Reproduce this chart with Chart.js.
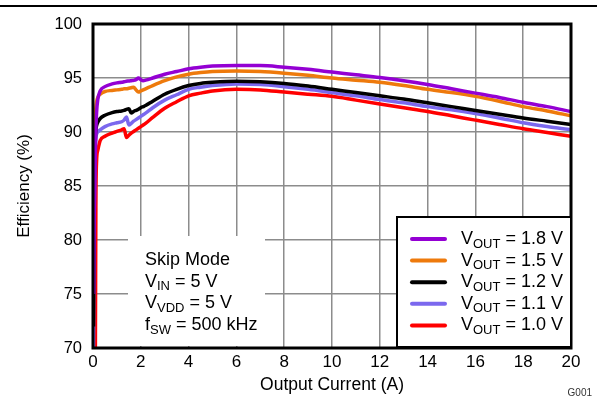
<!DOCTYPE html>
<html>
<head>
<meta charset="utf-8">
<script src="https://cdn.jsdelivr.net/npm/chart.js@4"></script>
<style>
  html, body { margin: 0; padding: 0; background: #fff; }
  canvas { display: block; }
</style>
</head>
<body>
<canvas id="effChart" width="597" height="400"></canvas>
<script>
/* Efficiency vs output current, skip mode, 5 output voltages */

const current = [0.02, 0.05, 0.1, 0.12, 0.15, 0.2, 0.3, 0.5, 0.8, 1.0, 1.2, 1.3, 1.4, 1.5, 1.6, 1.7, 1.8, 1.9, 2.0, 2.1, 2.2,
  2.5, 3, 3.5, 4, 4.5, 5, 6, 7, 8, 9, 10, 11, 12, 13, 14, 15, 16, 17, 18, 19, 20];

const eff18 = [75, 82, 88.5, 90.2, 91.8, 93.0, 93.8, 94.2, 94.45, 94.55, 94.6, 94.65, 94.7, 94.72, 94.75, 94.78, 94.85, 95.0, 94.85, 94.75, 94.8,
  95.0, 95.35, 95.6, 95.85, 96.0, 96.1, 96.15, 96.15, 96.0, 95.8, 95.55, 95.3, 95.05, 94.75, 94.4, 94.0, 93.6, 93.2, 92.75, 92.35, 91.9];
const eff15 = [80, 88, 91.6, 92.3, 92.8, 93.2, 93.5, 93.75, 93.85, 93.9, 93.95, 94.0, 94.0, 94.05, 94.1, 94.15, 93.9, 93.7, 93.8, 93.9, 94.0,
  94.3, 94.75, 95.1, 95.35, 95.5, 95.6, 95.65, 95.6, 95.45, 95.25, 95.0, 94.8, 94.6, 94.3, 93.95, 93.65, 93.3, 92.85, 92.35, 91.95, 91.5];
const eff12 = [72, 84, 89.5, 90.2, 90.6, 90.9, 91.25, 91.55, 91.8, 91.9, 91.95, 92.0, 92.1, 92.15, 91.75, 91.9, 92.0, 92.1, 92.25, 92.35, 92.45,
  92.85, 93.5, 93.95, 94.3, 94.5, 94.6, 94.7, 94.65, 94.5, 94.25, 93.95, 93.65, 93.35, 93.05, 92.7, 92.35, 92.0, 91.65, 91.3, 91.0, 90.7];
const eff11 = [70, 82, 88.8, 89.4, 89.8, 90.0, 90.2, 90.5, 90.75, 90.85, 90.95, 91.1, 91.4, 90.65, 90.8, 91.0, 91.15, 91.3, 91.45, 91.6, 91.75,
  92.25, 92.95, 93.45, 93.95, 94.15, 94.3, 94.45, 94.4, 94.2, 93.95, 93.65, 93.35, 93.0, 92.7, 92.35, 92.05, 91.7, 91.3, 90.85, 90.5, 90.2];
const eff10 = [50, 55, 70, 83, 87.3, 88.3, 89.2, 89.6, 89.9, 90.05, 90.2, 90.3, 89.5, 89.7, 89.9, 90.05, 90.2, 90.35, 90.5, 90.65, 90.8,
  91.35, 92.2, 92.8, 93.35, 93.6, 93.8, 93.95, 93.9, 93.7, 93.5, 93.3, 92.95, 92.6, 92.25, 91.9, 91.5, 91.1, 90.7, 90.3, 89.95, 89.6];

const seriesVout = ['1.8 V', '1.5 V', '1.2 V', '1.1 V', '1.0 V'];
const seriesEff = [eff18, eff15, eff12, eff11, eff10];
const seriesColors = ['#9400d3', '#ee7a0c', '#000000', '#7b68ee', '#ff0000'];

const conditions = [
  ['Skip Mode'],
  ['V', 'IN', ' = 5 V'],
  ['V', 'VDD', ' = 5 V'],
  ['f', 'SW', ' = 500 kHz']
];

const FONT = 'Liberation Sans, Arial, Helvetica, sans-serif';
const GRID = '#8c8c8c';

// texto com subscrito: [base, sub, resto]
function drawSubText(ctx, parts, x, y, size) {
  ctx.textBaseline = 'middle';
  ctx.textAlign = 'left';
  ctx.font = size + 'px ' + FONT;
  ctx.fillText(parts[0], x, y);
  x += ctx.measureText(parts[0]).width;
  if (parts.length > 1) {
    const sub = Math.round(size * 0.72);
    ctx.font = sub + 'px ' + FONT;
    ctx.fillText(parts[1], x, y + size * 0.28);
    x += ctx.measureText(parts[1]).width;
    ctx.font = size + 'px ' + FONT;
    ctx.fillText(parts[2], x, y);
  }
}

const decorPlugin = {
  id: 'decor',
  afterDatasetsDraw(chart) {
    const { ctx, chartArea: a } = chart;
    ctx.save();

    // caixa de condições (fundo branco cobre a grade)
    ctx.fillStyle = '#fff';
    ctx.fillRect(128, 236, 137, 110);
    ctx.fillStyle = '#000';
    conditions.forEach((c, i) => drawSubText(ctx, c, 145, 260 + i * 21.7, 18));

    // moldura da área do gráfico
    ctx.strokeStyle = '#000';
    ctx.lineWidth = 3;
    ctx.strokeRect(a.left, a.top, a.right - a.left, a.bottom - a.top);

    // legenda
    const lx = 397, ly = 217, lw = a.right - lx, lh = a.bottom - ly - 1;
    ctx.fillStyle = '#fff';
    ctx.fillRect(lx, ly, lw, lh);
    ctx.lineWidth = 2;
    ctx.strokeRect(lx, ly, lw, lh);
    chart.data.datasets.forEach((ds, i) => {
      const yy = 239 + i * 21.6;
      ctx.strokeStyle = ds.borderColor;
      ctx.lineWidth = 4;
      ctx.lineCap = 'round';
      ctx.beginPath();
      ctx.moveTo(412, yy);
      ctx.lineTo(445, yy);
      ctx.stroke();
      ctx.fillStyle = '#000';
      drawSubText(ctx, ['V', 'OUT', ' = ' + seriesVout[i]], 461, yy, 18);
    });

    // linha superior e código da figura
    ctx.strokeStyle = '#000';
    ctx.lineWidth = 2;
    ctx.lineCap = 'butt';
    ctx.beginPath();
    ctx.moveTo(0, 6);
    ctx.lineTo(597, 6);
    ctx.stroke();
    ctx.fillStyle = '#333';
    ctx.font = '10px ' + FONT;
    ctx.textAlign = 'right';
    ctx.textBaseline = 'middle';
    ctx.fillText('G001', 592, 393);
    ctx.restore();
  }
};

new Chart(document.getElementById('effChart'), {
  type: 'line',
  data: {
    datasets: seriesEff.map((eff, i) => ({
      label: 'VOUT = ' + seriesVout[i],
      data: current.map((c, j) => ({ x: c, y: eff[j] })),
      borderColor: seriesColors[i],
      borderWidth: 3.5,
      pointRadius: 0,
      cubicInterpolationMode: 'monotone',
      fill: false
    }))
  },
  options: {
    responsive: false,
    animation: false,
    layout: { padding: { left: 0, right: 26, top: 24, bottom: 0 } },
    plugins: { legend: { display: false }, tooltip: { enabled: false } },
    scales: {
      x: {
        type: 'linear', min: 0, max: 20,
        ticks: { stepSize: 2, padding: 4, color: '#000', font: { family: FONT, size: 17 } },
        grid: { color: GRID, lineWidth: 1.5, drawTicks: false },
        border: { display: false },
        title: { display: true, text: 'Output Current (A)', color: '#000',
          font: { family: FONT, size: 17.5 }, padding: { top: 0, bottom: 4 } },
        afterFit: s => { s.height = 52; }
      },
      y: {
        min: 70, max: 100,
        ticks: { stepSize: 5, padding: 11, color: '#000', font: { family: FONT, size: 16.5 } },
        grid: { color: GRID, lineWidth: 1.5, drawTicks: false },
        border: { display: false },
        title: { display: true, text: 'Efficiency (%)', color: '#000',
          font: { family: FONT, size: 17 }, padding: { top: 14, bottom: 0 } },
        afterFit: s => { s.width = 93; }
      }
    }
  },
  plugins: [decorPlugin]
});
</script>
</body>
</html>
